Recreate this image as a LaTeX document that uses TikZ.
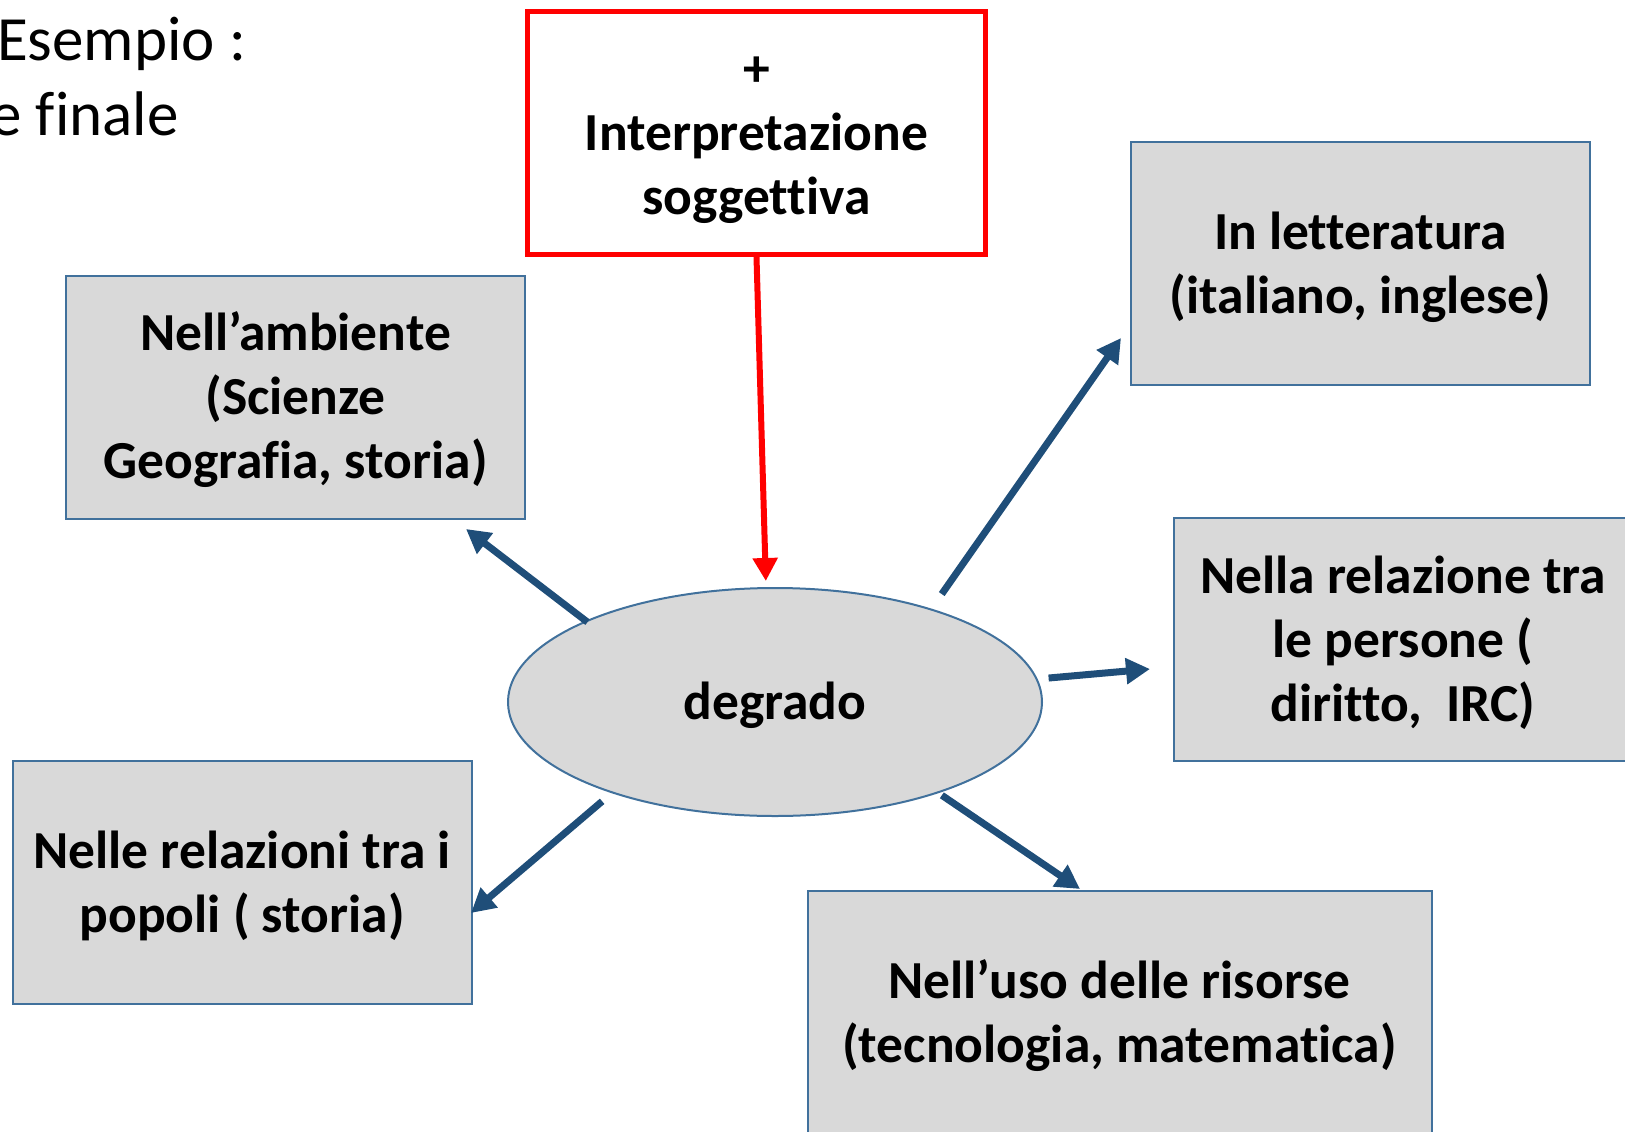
\documentclass[tikz,border=0pt]{standalone}
\usepackage{fontspec}
\setmainfont{Carlito}[Ligatures=NoCommon]
\usetikzlibrary{shapes.geometric,arrows.meta}

\definecolor{boxline}{HTML}{41719C}
\definecolor{boxfill}{HTML}{D9D9D9}
\definecolor{arrowblue}{HTML}{1F4E79}
\definecolor{redline}{HTML}{FF0000}

\newcommand{\firststrut}{\rule{0pt}{45pt}}

\tikzset{
  boxtext/.style={align=center, inner sep=0pt,
    font=\bfseries\fontsize{53.5}{64}\selectfont},
  argbox/.style={boxtext, draw=boxline, fill=boxfill, line width=2pt, minimum width=459pt,
    minimum height=243pt},
  link/.style={draw=arrowblue, line width=7pt, -{Triangle[length=24pt,width=25pt]}},
}

\begin{document}
\begin{tikzpicture}[x=1pt,y=-1pt]
    \useasboundingbox (0,0) rectangle (1625,1132);
    % title lines
    \node[anchor=base west, inner sep=0pt, font=\fontsize{63}{76}\selectfont] (title1) at (-3,60) {Esempio :};
    \node[anchor=base west, inner sep=0pt, font=\fontsize{63}{76}\selectfont] (title2) at (-10,135) {e finale};
    % centre
    \node[boxtext, ellipse, draw=boxline, fill=boxfill, line width=2pt, minimum width=534pt,
      minimum height=228pt] (deg) at (775,702) {\firststrut degrado};
    \node[boxtext, draw=redline, line width=5pt, minimum width=458pt, minimum height=243pt]
      (interp) at (756.5,133) {\firststrut +\\Interpretazione\\soggettiva};
    % fields
    \node[argbox] (amb) at (295.5,397) {\firststrut Nell’ambiente\\(Scienze\\Geografia, storia)};
    \node[argbox] (lett) at (1360.5,263.5) {\firststrut In letteratura\\(italiano, inglese)};
    \node[argbox] (pers) at (1403,639) {\firststrut Nella relazione tra\\le persone (\\diritto,\ \ IRC)};
    \node[argbox] (pop) at (242,882) {\firststrut Nelle relazioni tra i\\popoli ( storia)};
    \node[argbox, minimum width=624pt] (ris) at (1119.5,1012.6) {\firststrut Nell’uso delle risorse\\(tecnologia, matematica)};
    % arrow ends
    \coordinate (tipamb) at (466,529);
    \coordinate (tiplett) at (1121,338);
    \coordinate (tippers) at (1150,669);
    \coordinate (tippop) at (471,913);
    \coordinate (tipris) at (1080,889);
    \draw[redline, line width=6pt, -{Triangle[length=23pt,width=24pt]}, shorten >=6pt] (interp.south) -- (deg.north -| 766,0);
    \draw[link] ([shift={(3,1)}]deg.157) -- (tipamb);
    \draw[link] ([shift={(19,-12)}]deg.33) -- (tiplett);
    \draw[link] ([shift={(11,-1)}]deg.5) -- (tippers);
    \draw[link] ([shift={(-13,7)}]deg.210) -- (tippop);
    \draw[link] ([shift={(7,1)}]deg.-30) -- (tipris);
\end{tikzpicture}
\end{document}
